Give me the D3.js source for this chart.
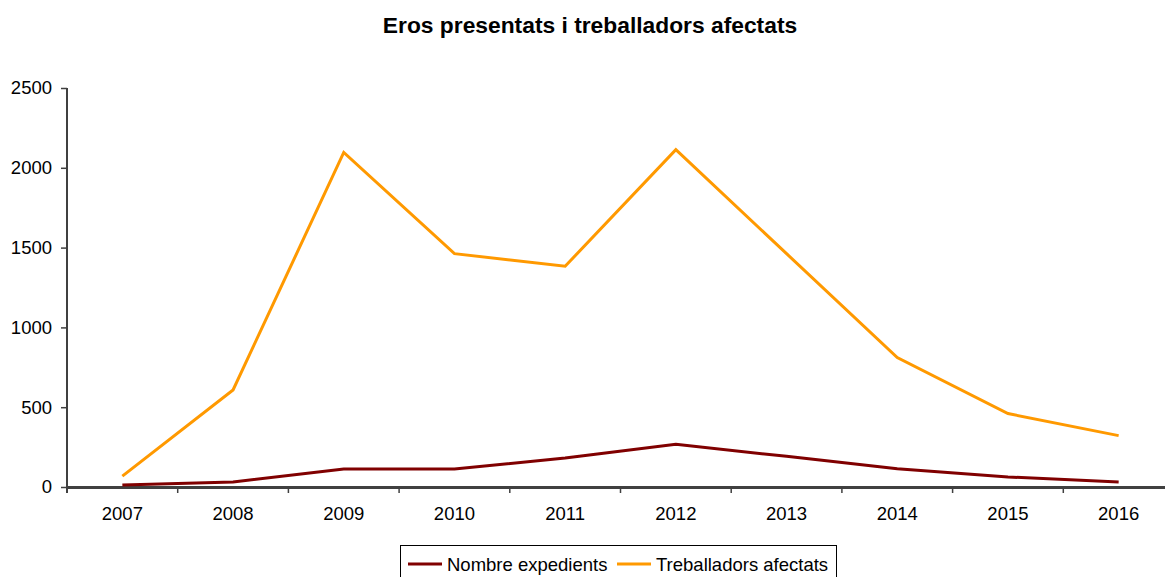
<!DOCTYPE html>
<html>
<head>
<meta charset="utf-8">
<script src="https://cdn.jsdelivr.net/npm/d3@7"></script>
<style>
  body { margin: 0; background: #fff; }
  svg { font-family: "Liberation Sans", Arial, sans-serif; }
</style>
</head>
<body>
<svg id="chart" width="1165" height="577"></svg>
<script>
// data
const years = ['2007', '2008', '2009', '2010', '2011', '2012', '2013', '2014', '2015', '2016'];
const expedients = [13, 31, 113, 113, 182, 268, 192, 115, 63, 31];
const treballadors = [68, 608, 2096, 1462, 1383, 2114, 1462, 811, 460, 322];
const yTicks = [0, 500, 1000, 1500, 2000, 2500];
const seriesNames = ['Nombre expedients', 'Treballadors afectats'];
const seriesColors = ['#800000', '#ff9900'];

const svg = d3.select('#chart');
const axisColor = '#404040';
const labelSize = '18.5px';

const margin = { left: 67, top: 88 };
const plotBottom = 487;

const x = d3.scaleBand()
  .domain(years)
  .range([margin.left, margin.left + 10 * 110.7])
  .paddingInner(0)
  .paddingOuter(0);

const y = d3.scaleLinear()
  .domain([0, 2500])
  .range([plotBottom, margin.top]);

// title
svg.append('text')
  .attr('x', 590)
  .attr('y', 33)
  .attr('text-anchor', 'middle')
  .style('font-size', '22.8px')
  .style('font-weight', 'bold')
  .text('Eros presentats i treballadors afectats');

// y axis
const yAxis = svg.append('g')
  .attr('transform', `translate(${margin.left},0)`)
  .call(d3.axisLeft(y).tickValues(yTicks).tickFormat(d3.format('d'))
    .tickSize(6).tickPadding(9).tickSizeOuter(0));
yAxis.select('.domain').attr('stroke', axisColor).attr('stroke-width', 2)
  .attr('d', `M0,${margin.top}V${plotBottom + 6}`);
yAxis.selectAll('.tick line').attr('stroke', axisColor).attr('stroke-width', 1.5);
yAxis.selectAll('.tick text').style('font-size', labelSize).attr('fill', '#000');

// x axis: labels centred in bands, ticks on band edges
const xAxis = svg.append('g')
  .attr('transform', `translate(0,${plotBottom})`)
  .call(d3.axisBottom(x).tickSize(0).tickPadding(20).tickSizeOuter(0));
xAxis.select('.domain').attr('stroke', axisColor).attr('stroke-width', 3);
xAxis.selectAll('.tick text').style('font-size', labelSize).attr('fill', '#000');
xAxis.selectAll('.edge')
  .data(years)
  .join('line')
  .attr('class', 'edge')
  .attr('x1', d => x(d))
  .attr('x2', d => x(d))
  .attr('y1', 0)
  .attr('y2', 6)
  .attr('stroke', axisColor)
  .attr('stroke-width', 1.5);

// lines
const line = d3.line()
  .x((d, i) => x(years[i]) + x.bandwidth() / 2)
  .y(d => y(d));

[expedients, treballadors].forEach((values, i) => {
  svg.append('path')
    .datum(values)
    .attr('fill', 'none')
    .attr('stroke', seriesColors[i])
    .attr('stroke-width', 3)
    .attr('stroke-linejoin', 'miter')
    .attr('d', line);
});

// legend
const legend = svg.append('g');
legend.append('rect')
  .attr('x', 400.5)
  .attr('y', 545.5)
  .attr('width', 436)
  .attr('height', 40)
  .attr('fill', '#fff')
  .attr('stroke', '#000')
  .attr('stroke-width', 1);

const legendX = [408, 617];
seriesNames.forEach((name, i) => {
  legend.append('line')
    .attr('x1', legendX[i])
    .attr('x2', legendX[i] + 34)
    .attr('y1', 564)
    .attr('y2', 564)
    .attr('stroke', seriesColors[i])
    .attr('stroke-width', 3);
  legend.append('text')
    .attr('x', legendX[i] + 39)
    .attr('y', 570.5)
    .style('font-size', labelSize)
    .text(name);
});
</script>
</body>
</html>
